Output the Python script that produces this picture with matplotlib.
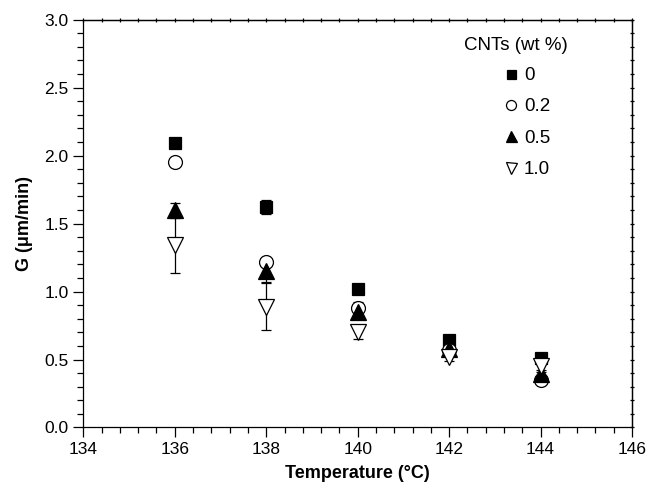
import matplotlib
matplotlib.use('Agg')
import matplotlib.pyplot as plt
from matplotlib.ticker import MultipleLocator

plt.rcParams['font.family'] = ['Liberation Sans', 'DejaVu Sans']

# Growth rate data
temps = [136, 138, 140, 142, 144]
g_00 = [2.09, 1.62, 1.02, 0.64, 0.51]
e_00 = [0.02, 0.05, 0.02, 0.02, 0.02]
g_02 = [1.95, 1.22, 0.88, 0.57, 0.35]
e_02 = [0.03, 0.03, 0.04, 0.03, 0.03]
g_05 = [1.60, 1.15, 0.85, 0.58, 0.39]
e_05 = [0.05, 0.08, 0.05, 0.03, 0.03]
g_10 = [1.34, 0.89, 0.70, 0.52, 0.45]
e_10 = [0.20, 0.17, 0.05, 0.03, 0.04]
labels = ['0', '0.2', '0.5', '1.0']

fig = plt.figure(figsize=(6.49, 4.92), dpi=100)
ax = fig.add_axes([0.1284, 0.1311, 0.8454, 0.8289])

series = [
    (g_00, e_00, 's', 'black', 9),
    (g_02, e_02, 'o', 'white', 10),
    (g_05, e_05, '^', 'black', 11),
    (g_10, e_10, 'v', 'white', 11),
]

handles = []
for (g, e, m, fc, ms), lab in zip(series, labels):
    ax.errorbar(temps, g, yerr=e, fmt='none', ecolor='black', elinewidth=0.9,
                capsize=3.5, capthick=0.9, zorder=2)
    h, = ax.plot(temps, g, linestyle='none', marker=m, markersize=ms,
                 markerfacecolor=fc, markeredgecolor='black', markeredgewidth=0.9,
                 zorder=3, label=lab)
    handles.append(h)

ax.set_xlim(134, 146)
ax.set_ylim(0, 3.0)
ax.xaxis.set_major_locator(MultipleLocator(2))
ax.xaxis.set_minor_locator(MultipleLocator(0.4))
ax.yaxis.set_major_locator(MultipleLocator(0.5))
ax.yaxis.set_minor_locator(MultipleLocator(0.1))
ax.yaxis.set_major_formatter(plt.FormatStrFormatter('%.1f'))

ax.tick_params(which='major', direction='out', length=7, width=0.9, labelsize=12.5,
               top=False, right=False)
ax.tick_params(which='minor', direction='out', length=4, width=0.9, top=False, right=False)

# small ticks on top and right spines
for sp in ['top', 'right', 'left', 'bottom']:
    ax.spines[sp].set_linewidth(0.9)
sec_x = ax.secondary_xaxis('top')
sec_x.xaxis.set_major_locator(MultipleLocator(2))
sec_x.xaxis.set_minor_locator(MultipleLocator(0.4))
sec_x.tick_params(which='both', direction='inout', length=2.5, width=0.9, labeltop=False)
sec_y = ax.secondary_yaxis('right')
sec_y.yaxis.set_major_locator(MultipleLocator(0.5))
sec_y.yaxis.set_minor_locator(MultipleLocator(0.1))
sec_y.tick_params(which='both', direction='inout', length=2.5, width=0.9, labelright=False)
sec_x.spines['top'].set_linewidth(0.9)
sec_y.spines['right'].set_linewidth(0.9)

ax.set_xlabel('Temperature (°C)', fontsize=13, fontweight='bold', labelpad=6)
ax.set_ylabel('G (μm/min)', fontsize=13, fontweight='bold', labelpad=8)

# legend title placed separately so entries can sit right of centre
ax.text(0.789, 0.937, 'CNTs (wt %)', transform=ax.transAxes, ha='center',
        va='center', fontsize=13.5)
leg = ax.legend(handles=handles, loc='upper left',
                bbox_to_anchor=(0.762, 0.884), frameon=False, fontsize=13.5,
                borderpad=0, borderaxespad=0, handlelength=1.0, handletextpad=0.2,
                labelspacing=0.76, markerscale=0.72)

plt.savefig('out.png', dpi=100)
plt.close()
